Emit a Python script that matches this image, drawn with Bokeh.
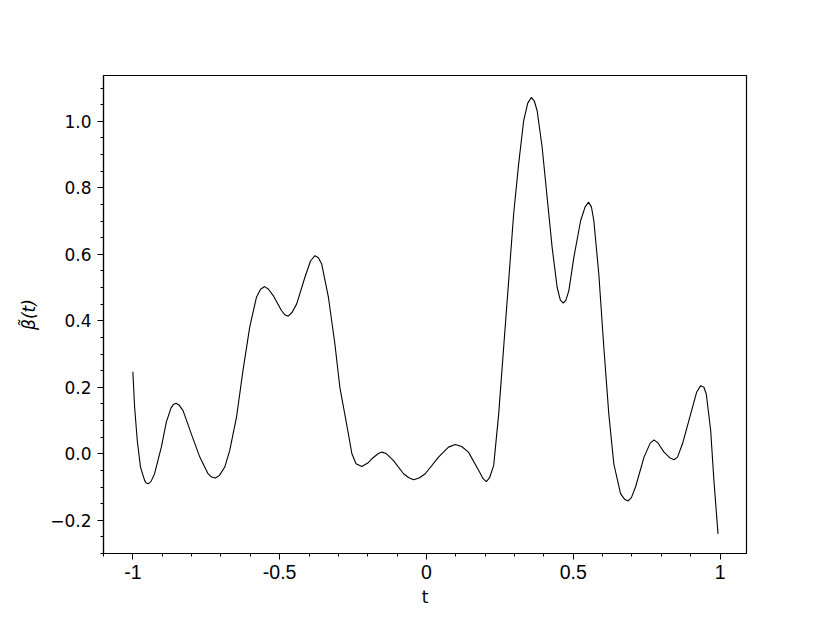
from bokeh.plotting import figure
from bokeh.models import Range1d, FixedTicker
from bokeh.embed import file_html
from bokeh.resources import INLINE

# data
t = [-1.000, -0.994, -0.985, -0.974, -0.960, -0.955, -0.947, -0.938, -0.926, -0.903,
     -0.886, -0.870, -0.862, -0.853, -0.843, -0.829, -0.801, -0.772, -0.744, -0.732,
     -0.719, -0.705, -0.687, -0.670, -0.647, -0.625, -0.602, -0.579, -0.565, -0.551,
     -0.538, -0.522, -0.494, -0.482, -0.471, -0.458, -0.442, -0.414, -0.395, -0.380,
     -0.368, -0.357, -0.334, -0.312, -0.295, -0.268, -0.254, -0.240, -0.220, -0.200,
     -0.186, -0.165, -0.152, -0.138, -0.113, -0.078, -0.060, -0.044, -0.025, -0.004,
     0.041, 0.075, 0.098, 0.120, 0.143, 0.178, 0.193, 0.204, 0.215, 0.229,
     0.246, 0.263, 0.280, 0.297, 0.314, 0.331, 0.345, 0.357, 0.367, 0.377,
     0.394, 0.411, 0.428, 0.445, 0.456, 0.466, 0.475, 0.485, 0.502, 0.525,
     0.540, 0.552, 0.562, 0.570, 0.587, 0.604, 0.621, 0.638, 0.661, 0.675,
     0.687, 0.698, 0.712, 0.741, 0.762, 0.775, 0.788, 0.809, 0.830, 0.843,
     0.855, 0.872, 0.900, 0.920, 0.934, 0.945, 0.953, 0.968, 0.979, 0.993]
beta = [0.247, 0.140, 0.040, -0.040, -0.080, -0.088, -0.090, -0.083, -0.060, 0.020,
        0.095, 0.138, 0.148, 0.152, 0.147, 0.130, 0.060, -0.010, -0.060, -0.070,
        -0.073, -0.065, -0.040, 0.010, 0.110, 0.250, 0.381, 0.471, 0.495, 0.503,
        0.495, 0.476, 0.431, 0.418, 0.414, 0.425, 0.451, 0.531, 0.580, 0.596,
        0.590, 0.571, 0.471, 0.331, 0.200, 0.070, 0.000, -0.030, -0.038, -0.028,
        -0.015, 0.000, 0.005, 0.001, -0.020, -0.060, -0.072, -0.078, -0.073, -0.060,
        -0.010, 0.020, 0.028, 0.022, 0.005, -0.050, -0.075, -0.084, -0.072, -0.035,
        0.120, 0.321, 0.521, 0.722, 0.872, 1.002, 1.055, 1.072, 1.062, 1.032,
        0.922, 0.771, 0.621, 0.501, 0.462, 0.453, 0.462, 0.491, 0.591, 0.701,
        0.742, 0.757, 0.742, 0.701, 0.541, 0.321, 0.120, -0.030, -0.120, -0.137,
        -0.142, -0.132, -0.100, -0.010, 0.032, 0.042, 0.033, 0.005, -0.013, -0.018,
        -0.010, 0.030, 0.120, 0.185, 0.205, 0.200, 0.180, 0.070, -0.080, -0.241]

x_ticks = [-1, -0.5, 0, 0.5, 1]
x_tick_labels = ["-1", "-0.5", "0", "0.5", "1"]
x_minor = [round(-1.1 + 0.1 * i, 2) for i in range(23)]
y_ticks = [-0.2, 0.0, 0.2, 0.4, 0.6, 0.8, 1.0]
y_tick_labels = ["\u22120.2", "0.0", "0.2", "0.4", "0.6", "0.8", "1.0"]
y_minor = [round(-0.3 + 0.05 * i, 2) for i in range(30)]

p = figure(width=822, height=615, output_backend="svg", toolbar_location=None,
           x_range=Range1d(-1.1, 1.09), y_range=Range1d(-0.3, 1.138),
           min_border_left=103, min_border_right=76, min_border_top=75, min_border_bottom=62)

p.line(t, beta, line_color="black", line_width=1.1)

p.grid.visible = False
p.outline_line_color = "black"
p.outline_line_width = 1.2
p.background_fill_color = "white"
p.border_fill_color = "white"

p.xaxis.ticker = FixedTicker(ticks=x_ticks, minor_ticks=x_minor)
p.xaxis.major_label_overrides = {tk: lb for tk, lb in zip(x_ticks, x_tick_labels)}
p.yaxis.ticker = FixedTicker(ticks=y_ticks, minor_ticks=y_minor)
p.yaxis.major_label_overrides = {tk: lb for tk, lb in zip(y_ticks, y_tick_labels)}

for ax in (p.xaxis[0], p.yaxis[0]):
    ax.axis_line_color = "black"
    ax.axis_line_width = 1.2
    ax.major_tick_line_color = "black"
    ax.minor_tick_line_color = "black"
    ax.major_tick_in = 0
    ax.major_tick_out = 6
    ax.minor_tick_in = 0
    ax.minor_tick_out = 3
    ax.major_label_text_color = "black"
    ax.axis_label_text_font = "DejaVu Sans"
    ax.axis_label_text_font_size = "17px"
    ax.axis_label_text_color = "black"
    ax.axis_label_text_font_style = "normal"

p.xaxis.major_label_text_font = "Liberation Sans"
p.xaxis.major_label_text_font_size = "19.5px"
p.xaxis.major_label_standoff = 5
p.yaxis.major_label_text_font = "DejaVu Sans"
p.yaxis.major_label_text_font_size = "17px"
p.yaxis.major_label_standoff = 6

p.xaxis.axis_label = "t"
p.xaxis.axis_label_standoff = 5
p.yaxis.axis_label = "\u03b2\u0303(t)"
p.yaxis.axis_label_text_font_style = "italic"
p.yaxis.axis_label_standoff = 8

open("out.html", "w").write(file_html(p, INLINE))
